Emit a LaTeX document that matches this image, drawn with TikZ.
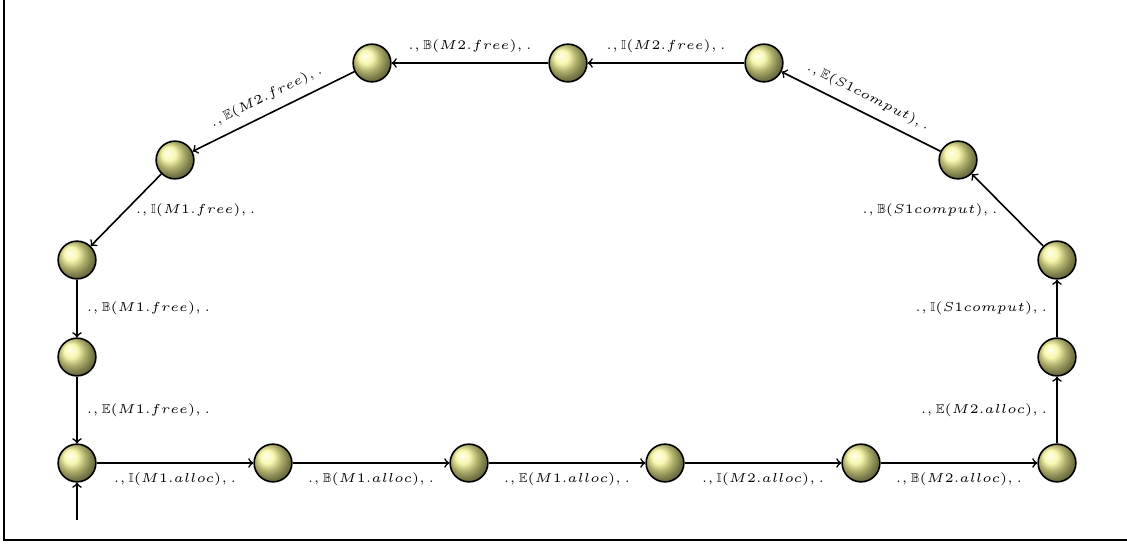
\documentclass[tikz,border=0pt]{standalone}
\usepackage{amsmath,amsfonts,amssymb}
\usepackage{xcolor}
\usepackage{tikz}
\usetikzlibrary{shadings}

\definecolor{ballyellow}{RGB}{245,245,150}

\begin{document}
\begin{tikzpicture}[x=0.0175cm, y=-0.0175cm,
            state/.style={shape=circle, minimum size=0.66cm, inner sep=0pt, draw, thick, ball color=ballyellow},
            trans/.style={thick,->},
            lbl/.style={font=\tiny, scale=1.3, transform shape}]
        \useasboundingbox (0,0) rectangle (1127,545);
        \draw[thick] (4,0) -- (4,540) -- (1127,540);

        % bottom row
        \node[state] (s0) at (77,463) {};
        \node[state] (s1) at (273,463) {};
        \node[state] (s2) at (469,463) {};
        \node[state] (s3) at (665,463) {};
        \node[state] (s4) at (861,463) {};
        \node[state] (s5) at (1057,463) {};
        % right side
        \node[state] (s6) at (1057,357) {};
        \node[state] (s7) at (1057,260) {};
        \node[state] (s8) at (958,160) {};
        % top row
        \node[state] (s9) at (764,63) {};
        \node[state] (s10) at (568,63) {};
        \node[state] (s11) at (372,63) {};
        % left side
        \node[state] (s12) at (175,160) {};
        \node[state] (s13) at (77,260) {};
        \node[state] (s14) at (77,357) {};

        \coordinate (start) at (77,520);
        \draw[trans] (start) -- (s0);

        \draw[trans] (s0) -- node[lbl,below]{$.,\mathbb{I}(M1.alloc),.$} (s1);
        \draw[trans] (s1) -- node[lbl,below]{$.,\mathbb{B}(M1.alloc),.$} (s2);
        \draw[trans] (s2) -- node[lbl,below]{$.,\mathbb{E}(M1.alloc),.$} (s3);
        \draw[trans] (s3) -- node[lbl,below]{$.,\mathbb{I}(M2.alloc),.$} (s4);
        \draw[trans] (s4) -- node[lbl,below]{$.,\mathbb{B}(M2.alloc),.$} (s5);
        \draw[trans] (s5) -- node[lbl,left]{$.,\mathbb{E}(M2.alloc),.$} (s6);
        \draw[trans] (s6) -- node[lbl,left]{$.,\mathbb{I}(S1comput),.$} (s7);
        \draw[trans] (s7) -- node[lbl,left]{$.,\mathbb{B}(S1comput),.$} (s8);
        \draw[trans] (s8) -- node[lbl,above,sloped]{$.,\mathbb{E}(S1comput),.$} (s9);
        \draw[trans] (s9) -- node[lbl,above]{$.,\mathbb{I}(M2.free),.$} (s10);
        \draw[trans] (s10) -- node[lbl,above]{$.,\mathbb{B}(M2.free),.$} (s11);
        \draw[trans] (s11) -- node[lbl,above,sloped]{$.,\mathbb{E}(M2.free),.$} (s12);
        \draw[trans] (s12) -- node[lbl,right]{$.,\mathbb{I}(M1.free),.$} (s13);
        \draw[trans] (s13) -- node[lbl,right]{$.,\mathbb{B}(M1.free),.$} (s14);
        \draw[trans] (s14) -- node[lbl,right]{$.,\mathbb{E}(M1.free),.$} (s0);
    \end{tikzpicture}
\end{document}
